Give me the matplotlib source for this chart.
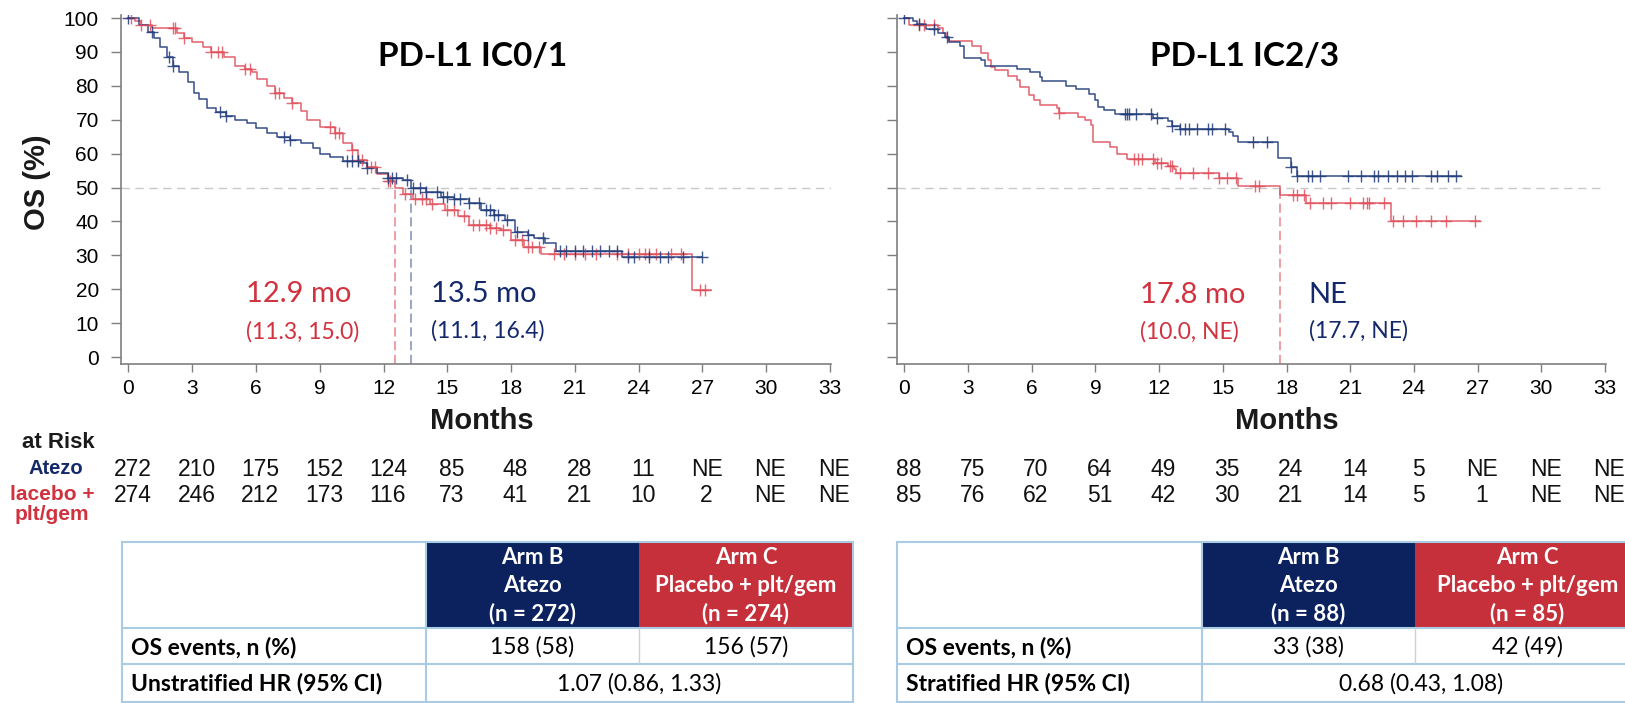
import numpy as np
import matplotlib.pyplot as plt
import matplotlib.transforms as mtransforms
from matplotlib.patches import Rectangle

W, H = 1625, 703
BLUE = '#1f3b7a'
RED = '#e0505c'
NAVY_TXT = '#13296b'
RED_TXT = '#d0323e'
GRAY = '#7f7f7f'

month_ticks = list(range(0, 34, 3))
os_ticks = list(range(0, 101, 10))

# PD-L1 IC0/1 -- KM steps
ic01_atezo_t = [0, 0.5, 0.9, 1.2, 1.5, 1.8, 2.1, 2.4, 2.8, 3.1, 3.3, 3.7, 4.1, 4.6, 5.0, 5.6,
                6.0, 6.5, 7.0, 7.6, 8.1, 8.7, 9.0, 9.5, 10.1, 10.9, 11.2, 11.7, 12.2, 12.9, 13.3,
                14.0, 14.7, 15.3, 16.0, 16.6, 17.2, 17.7, 18.2, 18.8, 19.1, 19.6, 20.1, 23.2, 27.0]
ic01_atezo_s = [100, 98, 96, 94, 91.5, 88.5, 86, 84, 81, 78, 76, 73.5, 72.3, 71, 70, 69,
                67.5, 66, 65, 64, 63, 61.6, 60, 59, 57.7, 57.2, 55.7, 54.3, 52.8, 52.2, 49.8,
                48.8, 47.3, 46.5, 45.4, 43.4, 42, 40.4, 37, 36, 35, 33.6, 31.2, 29.5, 29.5]
ic01_atezo_cens = [0.0, 1.1, 1.9, 2.1, 4.3, 4.6, 7.3, 7.6, 10.3, 10.5, 10.8, 11.2, 12.2, 12.4,
                   12.6, 13.1, 13.4, 13.7, 14.0, 14.5, 14.8, 15.0, 15.3, 15.6, 16.0, 16.5, 16.8,
                   17.0, 17.2, 17.4, 17.8, 18.3, 18.8, 19.5, 20.3, 20.6, 21.0, 21.4, 21.8, 22.2,
                   22.6, 23.0, 23.5, 23.8, 24.5, 25.0, 25.4, 26.1, 27.0]

ic01_pbo_t = [0, 0.3, 0.6, 1.1, 2.3, 2.6, 3.0, 3.5, 3.9, 4.5, 5.0, 5.5, 5.8, 6.05, 6.5, 6.9,
              7.3, 7.7, 8.1, 8.4, 9.0, 9.7, 10.1, 10.5, 10.8, 11.2, 11.7, 12.2, 12.55, 12.9,
              13.4, 14.2, 14.9, 15.5, 16.0, 17.0, 17.5, 18.0, 18.6, 19.4, 26.5, 27.4]
ic01_pbo_s = [100, 99, 98, 97, 95.5, 94, 93, 91.5, 90, 88.5, 86, 85, 84, 82, 80, 78,
              76.5, 75, 72.5, 70, 68, 66, 63, 61, 58, 56, 54, 52, 49.8, 48,
              46.5, 45, 43.4, 41.5, 39, 38, 37.5, 34.5, 32.5, 30.3, 19.8, 19.8]
ic01_pbo_cens = [0.1, 0.6, 1.0, 2.1, 2.2, 2.6, 3.9, 4.2, 4.4, 5.5, 5.7, 6.9, 7.1, 7.7, 9.5,
                 9.7, 9.9, 10.5, 10.8, 11.0, 11.4, 11.6, 12.2, 12.3, 13.0, 13.5, 13.8, 14.0,
                 14.3, 15.0, 15.3, 15.8, 16.2, 16.5, 16.8, 17.0, 17.3, 17.6, 18.2, 18.5, 18.8,
                 19.0, 19.3, 20.0, 20.5, 21.0, 21.5, 22.0, 23.0, 23.5, 24.0, 24.3, 24.5, 24.8,
                 25.5, 26.0, 26.9, 27.1]

# PD-L1 IC2/3
ic23_atezo_t = [0, 0.4, 0.6, 1.0, 1.6, 1.9, 2.1, 2.6, 2.8, 3.6, 3.8, 5.3, 5.9, 6.4, 6.5, 7.6,
                8.1, 8.7, 9.0, 9.1, 9.4, 9.9, 11.7, 12.4, 12.6, 13.0, 15.3, 15.5, 15.7, 17.6,
                18.2, 18.5, 26.2]
ic23_atezo_s = [100, 99, 98.3, 96.8, 95.6, 94.3, 92.9, 91.9, 88.3, 87.5, 86, 85, 84, 82.6,
                81.4, 80.1, 79.1, 77.7, 75.7, 73.7, 72.8, 71.6, 70.6, 69.6, 68.3, 67.3, 66.3,
                65.3, 63.4, 58.7, 56.1, 53.4, 53.4]
ic23_atezo_cens = [0.0, 0.7, 1.4, 2.0, 10.4, 10.5, 10.6, 10.9, 11.6, 11.9, 12.6, 13.0, 13.2,
                   13.4, 13.8, 14.3, 14.5, 15.1, 16.4, 17.1, 18.2, 18.5, 19.0, 19.2, 19.6,
                   20.9, 21.5, 22.1, 22.3, 22.8, 23.2, 23.6, 23.9, 24.8, 25.1, 25.6, 26.0]

ic23_pbo_t = [0, 0.2, 1.6, 1.8, 1.96, 2.1, 3.2, 3.6, 3.95, 4.1, 4.25, 4.9, 5.3, 5.45, 5.85,
              6.1, 6.4, 7.2, 7.3, 8.2, 8.5, 8.8, 8.9, 9.7, 10.0, 10.5, 11.8, 12.4, 12.7, 12.8,
              14.8, 15.7, 17.7, 18.9, 22.9, 27.1]
ic23_pbo_s = [100, 98, 97, 95.6, 94.2, 93.2, 91.7, 89.7, 87.7, 85.7, 84.8, 82.8, 81.8, 79.6,
              77.4, 75.9, 74.4, 73.4, 71.9, 70.9, 69.9, 68.4, 63.4, 62.1, 59.8, 58.5, 57.1,
              56.4, 55.6, 54.3, 52.9, 50.5, 47.8, 45.4, 40.2, 40.2]
ic23_pbo_cens = [0.7, 0.9, 1.4, 7.3, 10.8, 11.0, 11.2, 11.7, 11.9, 12.1, 12.5, 12.6, 13.0,
                 13.6, 14.3, 14.8, 15.2, 15.6, 16.5, 16.7, 18.3, 18.5, 18.8, 19.1, 19.7, 20.1,
                 21.0, 21.6, 21.8, 21.9, 22.6, 23.0, 23.5, 24.1, 24.8, 25.5, 26.9]

medians_ic01 = {'atezo': 13.3, 'pbo': 12.55}
medians_ic23 = {'pbo': 17.7}

risk_ic01_atezo = ['272', '210', '175', '152', '124', '85', '48', '28', '11', 'NE', 'NE', 'NE']
risk_ic01_pbo = ['274', '246', '212', '173', '116', '73', '41', '21', '10', '2', 'NE', 'NE']
risk_ic23_atezo = ['88', '75', '70', '64', '49', '35', '24', '14', '5', 'NE', 'NE', 'NE']
risk_ic23_pbo = ['85', '76', '62', '51', '42', '30', '21', '14', '5', '1', 'NE', 'NE']

header_b_ic01 = 'Arm B\nAtezo\n(n = 272)'
header_c_ic01 = 'Arm C\nPlacebo + plt/gem\n(n = 274)'
header_b_ic23 = 'Arm B\nAtezo\n(n = 88)'
header_c_ic23 = 'Arm C\nPlacebo + plt/gem\n(n = 85)'
events_ic01 = ['158 (58)', '156 (57)']
events_ic23 = ['33 (38)', '42 (49)']
hr_ic01 = ('Unstratified HR (95% CI)', '1.07 (0.86, 1.33)')
hr_ic23 = ('Stratified HR (95% CI)', '0.68 (0.43, 1.08)')

plt.rcParams['font.family'] = ['Liberation Sans', 'DejaVu Sans']

fig = plt.figure(figsize=(W / 100, H / 100), dpi=100)


def px_axes(x0, x1, y_top, y_bot):
    return fig.add_axes([x0 / W, 1 - y_bot / H, (x1 - x0) / W, (y_bot - y_top) / H])


def km(ax, t, s, cens, color):
    t = np.asarray(t)
    s = np.asarray(s)
    ax.step(t, s, where='post', color=color, lw=1.1, alpha=0.9, zorder=3)
    idx = np.searchsorted(t, cens, side='right') - 1
    ax.plot(cens, s[idx], '+', color=color, ms=9, mew=1.0, alpha=0.85, zorder=4)


def style(ax, show_ylabels):
    ax.set_xlim(-0.35, 33.05)
    ax.set_ylim(-2.06, 100.9)
    ax.set_xticks(month_ticks)
    ax.set_yticks(os_ticks)
    for side in ['top', 'right']:
        ax.spines[side].set_visible(False)
    for side in ['left', 'bottom']:
        ax.spines[side].set_color(GRAY)
        ax.spines[side].set_linewidth(1.2)
    ax.tick_params(axis='x', length=6, width=1, color=GRAY, labelsize=15, pad=5)
    ax.tick_params(axis='y', length=7, width=1, color=GRAY, labelsize=15, pad=9,
                   labelleft=show_ylabels)
    ax.axhline(50, color='#c8c8c8', lw=1, ls=(0, (6, 4)), zorder=1)


ax1 = px_axes(121, 831, 15, 364)
ax2 = px_axes(897, 1606, 15, 364)
style(ax1, True)
style(ax2, False)

km(ax1, ic01_pbo_t, ic01_pbo_s, ic01_pbo_cens, RED)
km(ax1, ic01_atezo_t, ic01_atezo_s, ic01_atezo_cens, BLUE)
km(ax2, ic23_pbo_t, ic23_pbo_s, ic23_pbo_cens, RED)
km(ax2, ic23_atezo_t, ic23_atezo_s, ic23_atezo_cens, BLUE)

ax1.vlines(medians_ic01['pbo'], -2.06, 50, colors='#e8848c', lw=1.1, linestyles=(0, (6, 3)))
ax1.vlines(medians_ic01['atezo'], -2.06, 50, colors='#7f8fb5', lw=1.1, linestyles=(0, (6, 3)))
ax2.vlines(medians_ic23['pbo'], -2.06, 50, colors='#e8848c', lw=1.1, linestyles=(0, (6, 3)))

ann = dict(family=['Lato', 'DejaVu Sans'], va='center', ha='left')
ax1.text(5.55, 18.6, '12.9 mo', color=RED_TXT, fontsize=21, **ann)
ax1.text(5.55, 7.3, '(11.3, 15.0)', color=RED_TXT, fontsize=16.5, **ann)
ax1.text(14.25, 18.6, '13.5 mo', color=NAVY_TXT, fontsize=21, **ann)
ax1.text(14.25, 7.8, '(11.1, 16.4)', color=NAVY_TXT, fontsize=16.5, **ann)
ax2.text(11.1, 18.4, '17.8 mo', color=RED_TXT, fontsize=21, **ann)
ax2.text(11.1, 7.4, '(10.0, NE)', color=RED_TXT, fontsize=16.5, **ann)
ax2.text(19.05, 18.4, 'NE', color=NAVY_TXT, fontsize=21, **ann)
ax2.text(19.05, 7.8, '(17.7, NE)', color=NAVY_TXT, fontsize=16.5, **ann)

# overlay in pixel coordinates for titles, risk table and summary tables
ov = fig.add_axes([0, 0, 1, 1])
ov.set_xlim(0, W)
ov.set_ylim(H, 0)
ov.axis('off')

title_kw = dict(family=['Lato', 'DejaVu Sans'], fontsize=24, fontweight='bold', ha='center', va='center')
ov.text(473, 56, 'PD-L1 IC0/1', **title_kw)
ov.text(1245, 56, 'PD-L1 IC2/3', **title_kw)

ov.text(37, 182, 'OS (%)', rotation=90, fontsize=21, fontweight='bold', ha='center', va='center',
        color='#1a1a1a')
ov.text(482, 421, 'Months', fontsize=21, fontweight='bold', ha='center', va='center', color='#1a1a1a')
ov.text(1287, 421, 'Months', fontsize=21, fontweight='bold', ha='center', va='center', color='#1a1a1a')

# numbers at risk
ov.text(22, 442, 'at Risk', fontsize=16, fontweight='bold', ha='left', va='center', color='#1a1a1a')
ov.text(56, 469, 'Atezo', fontsize=14.5, fontweight='bold', ha='center', va='center', color=NAVY_TXT)
ov.text(52, 494, 'lacebo +', fontsize=15, fontweight='bold', ha='center', va='center', color=RED_TXT)
ov.text(52, 514, 'plt/gem', fontsize=15, fontweight='bold', ha='center', va='center', color=RED_TXT)
for ax, r1, r2 in [(ax1, risk_ic01_atezo, risk_ic01_pbo), (ax2, risk_ic23_atezo, risk_ic23_pbo)]:
    tr = mtransforms.blended_transform_factory(ax.transData, ov.transData)
    for m, a, b in zip(month_ticks, r1, r2):
        ov.text(m + 0.2, 469, a, transform=tr, fontsize=16.5, ha='center', va='center', color='#111111')
        ov.text(m + 0.2, 495, b, transform=tr, fontsize=16.5, ha='center', va='center', color='#111111')

# summary tables
LINE = '#a9cbe3'
tab_font = ['Lato', 'DejaVu Sans']


def summary_table(x0, x1, x2, x3, hb, hc, events, hr):
    y0, y1, y2, y3 = 542, 628, 664, 702
    ov.add_patch(Rectangle((x1, y0), x2 - x1, y1 - y0, facecolor='#0b225e', edgecolor='none'))
    ov.add_patch(Rectangle((x2, y0), x3 - x2, y1 - y0, facecolor='#c5303b', edgecolor='none'))
    for y in [y0, y1, y2, y3]:
        ov.plot([x0, x3], [y, y], color=LINE, lw=1.5)
    for x in [x0, x1, x3]:
        ov.plot([x, x], [y0, y3], color=LINE, lw=1.5)
    ov.plot([x2, x2], [y1, y2], color='#d0d0d0', lw=1.0)
    hkw = dict(family=tab_font, fontsize=16, fontweight='bold', color='white', ha='center',
               va='center', linespacing=1.4)
    ov.text((x1 + x2) / 2, 586, hb, **hkw)
    ov.text((x2 + x3) / 2, 586, hc, **hkw)
    rkw = dict(family=tab_font, fontsize=16.5, va='center')
    ov.text(x0 + 9, 647, 'OS events, n (%)', fontweight='bold', ha='left', **rkw)
    ov.text(x0 + 9, 684, hr[0], fontweight='bold', ha='left', **rkw)
    ov.text((x1 + x2) / 2, 647, events[0], ha='center', **rkw)
    ov.text((x2 + x3) / 2, 647, events[1], ha='center', **rkw)
    ov.text((x1 + x3) / 2, 684, hr[1], ha='center', **rkw)


summary_table(122, 426, 639, 853, header_b_ic01, header_c_ic01, events_ic01, hr_ic01)
summary_table(897, 1202, 1415, 1640, header_b_ic23, header_c_ic23, events_ic23, hr_ic23)

fig.savefig('out.png', dpi=100)
